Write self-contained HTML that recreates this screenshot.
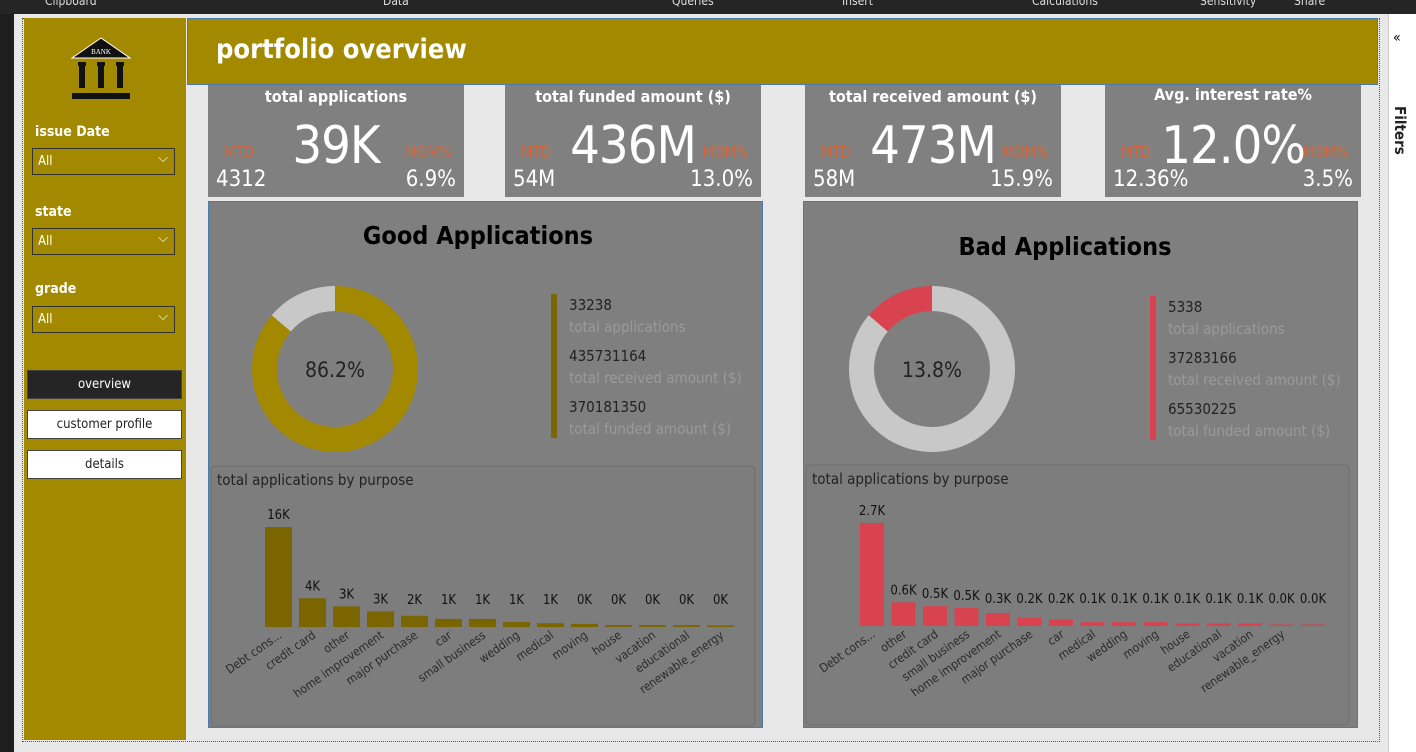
<!DOCTYPE html>
<html><head><meta charset="utf-8"><style>
*{margin:0;padding:0;box-sizing:border-box}
body{width:1416px;height:752px;overflow:hidden;background:#e8e8e8;font-family:"DejaVu Sans Condensed","Liberation Sans",sans-serif;position:relative}
.abs{position:absolute}
.card{position:absolute;background:#808080;color:#fff;top:85px;height:112px;width:256px}
.card .t{position:absolute;top:2px;width:100%;text-align:center;font-size:16px;font-weight:bold}
.card .big{position:absolute;top:30px;width:100%;text-align:center;font-size:52px;line-height:62px;letter-spacing:-1px}
.card .mtd{position:absolute;left:16px;top:58px;color:#d4663a;font-size:15px}
.card .mom{position:absolute;right:12px;top:58px;color:#d4663a;font-size:15px}
.card .l{position:absolute;left:8px;top:82px;font-size:22px}
.card .r{position:absolute;right:8px;top:82px;font-size:22px}
.slab{position:absolute;left:35px;color:#fff;font-weight:bold;font-size:14px}
.dd{position:absolute;left:32px;width:143px;height:27px;border:1px solid #333;color:#fff;font-size:13px;padding:5px 5px}
.btn{position:absolute;left:27px;width:155px;height:29px;background:#fff;border:1px solid #444;font-size:13px;text-align:center;line-height:28px;color:#222}
.panel{position:absolute;top:201px;height:527px;background:#7f7f7f;border:1px solid #4a7bb0}
</style></head><body>
<div class="abs" style="left:0;top:0;width:1416px;height:14px;background:#252525;color:#ddd;font-size:12px;line-height:6px">
<span class="abs" style="left:45px;top:-2px">Clipboard</span><span class="abs" style="left:383px;top:-2px">Data</span><span class="abs" style="left:672px;top:-2px">Queries</span><span class="abs" style="left:842px;top:-2px">Insert</span><span class="abs" style="left:1032px;top:-2px">Calculations</span><span class="abs" style="left:1200px;top:-2px">Sensitivity</span><span class="abs" style="left:1294px;top:-2px">Share</span></div>
<div class="abs" style="left:0;top:14px;width:14px;height:738px;background:#1e1e1e"></div>
<div class="abs" style="left:22px;top:18px;width:1358px;height:724px;border:1px dotted #555"></div>
<div class="abs" style="left:1388px;top:14px;width:28px;height:738px;background:#fff;border-left:1px solid #ccc">
<div class="abs" style="left:4px;top:16px;font-size:14px">«</div>
<div class="abs" style="left:2px;top:92px;writing-mode:vertical-rl;font-size:15px;font-weight:bold;color:#222">Filters</div></div>
<div class="abs" style="left:24px;top:18px;width:162px;height:722px;background:#a38900">
<svg class="abs" style="left:46px;top:18px" width="62" height="66"><polygon points="31,2 2,22 60,22" fill="#111" stroke="#fff" stroke-width="1"/><text x="31" y="18" font-size="7" fill="#fff" text-anchor="middle" font-family="Liberation Serif">BANK</text><rect x="8" y="26" width="8" height="4" fill="#111"/><rect x="27" y="26" width="8" height="4" fill="#111"/><rect x="46" y="26" width="8" height="4" fill="#111"/><rect x="9" y="30" width="6" height="22" fill="#111"/><rect x="28" y="30" width="6" height="22" fill="#111"/><rect x="47" y="30" width="6" height="22" fill="#111"/><rect x="2" y="57" width="58" height="6" fill="#111"/></svg>
</div>
<div class="slab" style="top:124px">issue Date</div>
<div class="dd" style="top:148px">All<span class="abs" style="right:6px;top:2px">⌵</span></div>
<div class="slab" style="top:204px">state</div>
<div class="dd" style="top:228px">All<span class="abs" style="right:6px;top:2px">⌵</span></div>
<div class="slab" style="top:281px">grade</div>
<div class="dd" style="top:306px">All<span class="abs" style="right:6px;top:2px">⌵</span></div>
<div class="btn" style="top:370px;background:#252525;color:#fff">overview</div>
<div class="btn" style="top:410px">customer profile</div>
<div class="btn" style="top:450px">details</div>
<div class="abs" style="left:187px;top:18px;width:1191px;height:67px;background:#a38900;border:1px solid #4a7bb0">
<div class="abs" style="left:28px;top:15px;color:#fff;font-size:27px;font-weight:bold">portfolio overview</div></div>

<div class="card" style="left:208px"><div class="t">total applications</div><div class="big">39K</div><div class="mtd">MTD</div><div class="mom">MOM%</div><div class="l">4312</div><div class="r">6.9%</div></div>
<div class="card" style="left:505px"><div class="t">total funded amount ($)</div><div class="big">436M</div><div class="mtd">MTD</div><div class="mom">MOM%</div><div class="l">54M</div><div class="r">13.0%</div></div>
<div class="card" style="left:805px"><div class="t">total received amount ($)</div><div class="big">473M</div><div class="mtd">MTD</div><div class="mom">MOM%</div><div class="l">58M</div><div class="r">15.9%</div></div>
<div class="card" style="left:1105px"><div class="t" style="top:0">Avg. interest rate%</div><div class="big">12.0%</div><div class="mtd">MTD</div><div class="mom">MOM%</div><div class="l">12.36%</div><div class="r">3.5%</div></div>

<div class="panel" style="left:208px;width:555px"></div>
<div class="panel" style="left:803px;width:555px"></div>
<svg class="abs" style="left:0;top:0" width="1416" height="752" id="ch"></svg>
<script>
const goodCats=["Debt cons...","credit card","other","home improvement","major purchase","car","small business","wedding","medical","moving","house","vacation","educational","renewable_energy"];
const goodVals=[16.0,4.6,3.3,2.5,1.8,1.3,1.3,0.8,0.6,0.5,0.3,0.3,0.3,0.1];
const goodLabels=["16K","4K","3K","3K","2K","1K","1K","1K","1K","0K","0K","0K","0K","0K"];
const badCats=["Debt cons...","other","credit card","small business","home improvement","major purchase","car","medical","wedding","moving","house","educational","vacation","renewable_energy"];
const badVals=[2.7,0.62,0.52,0.47,0.34,0.22,0.17,0.1,0.1,0.1,0.07,0.07,0.07,0.02,0.02];
const badLabels=["2.7K","0.6K","0.5K","0.5K","0.3K","0.2K","0.2K","0.1K","0.1K","0.1K","0.1K","0.1K","0.1K","0.0K","0.0K"];
const goodPct=86.2, badPct=13.8;
const goodStats=["33238","435731164","370181350"];
const badStats=["5338","37283166","65530225"];
const statNames=["total applications","total received amount ($)","total funded amount ($)"];
const NS="http://www.w3.org/2000/svg", svg=document.getElementById('ch');
function mk(t,a,txt){const e=document.createElementNS(NS,t);for(const k in a)e.setAttribute(k,a[k]);if(txt!==undefined)e.textContent=txt;svg.appendChild(e);return e;}
function arc(cx,cy,r0,r1,a0,a1){const p=(r,a)=>[cx+r*Math.sin(a),cy-r*Math.cos(a)];const l=(a1-a0)>Math.PI?1:0;const [x0,y0]=p(r1,a0),[x1,y1]=p(r1,a1),[x2,y2]=p(r0,a1),[x3,y3]=p(r0,a0);return `M${x0},${y0}A${r1},${r1} 0 ${l} 1 ${x1},${y1}L${x2},${y2}A${r0},${r0} 0 ${l} 0 ${x3},${y3}Z`;}
function section(o){
  let t=mk('text',{x:o.titleX,y:o.titleY,'font-size':25,'font-weight':'bold',fill:'#000','text-anchor':'middle','font-family':'DejaVu Sans Condensed, Liberation Sans, sans-serif'},o.title);
  
  const f=o.pct/100*2*Math.PI, T=2*Math.PI;
  let a0,a1; if(o.key==='good'){a0=0;a1=f;} else {a0=T-f;a1=T;}
  let d1=mk('path',{d:arc(o.cx,o.cy,58,83,a0,a1),fill:o.donutColor});
  
  let d2=mk('path',{d:o.key==='good'?arc(o.cx,o.cy,58,83,f,T):arc(o.cx,o.cy,58,83,0,T-f),fill:'#c8c8c8'});
  
  let c=mk('text',{x:o.cx,y:o.cy+8,'font-size':21,fill:'#222','text-anchor':'middle'},o.pct.toFixed(1)+'%');
  
  mk('rect',{x:o.lx,y:o.ly,width:6,height:144,fill:o.color});
  o.stats.forEach((s,i)=>{
    let v=mk('text',{x:o.lx+18,y:o.ly+16+i*51,'font-size':15,fill:'#222'},s);
    
    let n=mk('text',{x:o.lx+18,y:o.ly+38+i*51,'font-size':15,fill:'#9a9a9a'},statNames[i]);
    
  });
  let bx=mk('rect',{x:o.bx,y:o.by,width:o.bw,height:260,rx:4,fill:'#7d7d7d',stroke:'#6e6e6e'});
  
  let bt=mk('text',{x:o.bx+6,y:o.by+19,'font-size':15,fill:'#222'},'total applications by purpose');
  
  const max=Math.max(...o.vals), y=v=>o.base-v/max*o.hmax;
  const xs=i=>o.x0+i*o.step;
  o.vals.forEach((v,i)=>{
    const top=Math.min(y(v),o.base-1.5);
    let r=mk('rect',{x:xs(i),y:top,width:o.bwid,height:o.base-top,fill:o.barColor});
    
    
    let l=mk('text',{x:xs(i)+o.bwid/2,y:Math.min(y(v),o.base-15)-8,'font-size':13,fill:'#111','text-anchor':'middle'},o.labels[i]);
    
  });
  o.cats.forEach((c,i)=>{
    const cx=xs(i)+o.bwid/2+4, cy=o.base+10;
    let t=mk('text',{x:cx,y:cy,'font-size':12,fill:'#2a2a2a','text-anchor':'end',transform:`rotate(-35 ${cx} ${cy})`},c);
    
  });
}
section({key:'good',title:'Good Applications',titleX:478,titleY:244,cx:335,cy:369,pct:goodPct,color:'#7a6500',donutColor:'#a38900',barColor:'#7a6500',lx:551,ly:294,stats:goodStats,bx:211,by:466,bw:544,vals:goodVals,labels:goodLabels,cats:goodCats,x0:265,step:34,bwid:27,base:627,hmax:100});
section({key:'bad',title:'Bad Applications',titleX:1065,titleY:255,cx:932,cy:369,pct:badPct,color:'#d9434f',donutColor:'#d9434f',barColor:'#d9434f',lx:1150,ly:296,stats:badStats,bx:806,by:465,bw:543,vals:badVals,labels:badLabels,cats:badCats,x0:860,step:31.5,bwid:24,base:626,hmax:103});
</script>
</body></html>
